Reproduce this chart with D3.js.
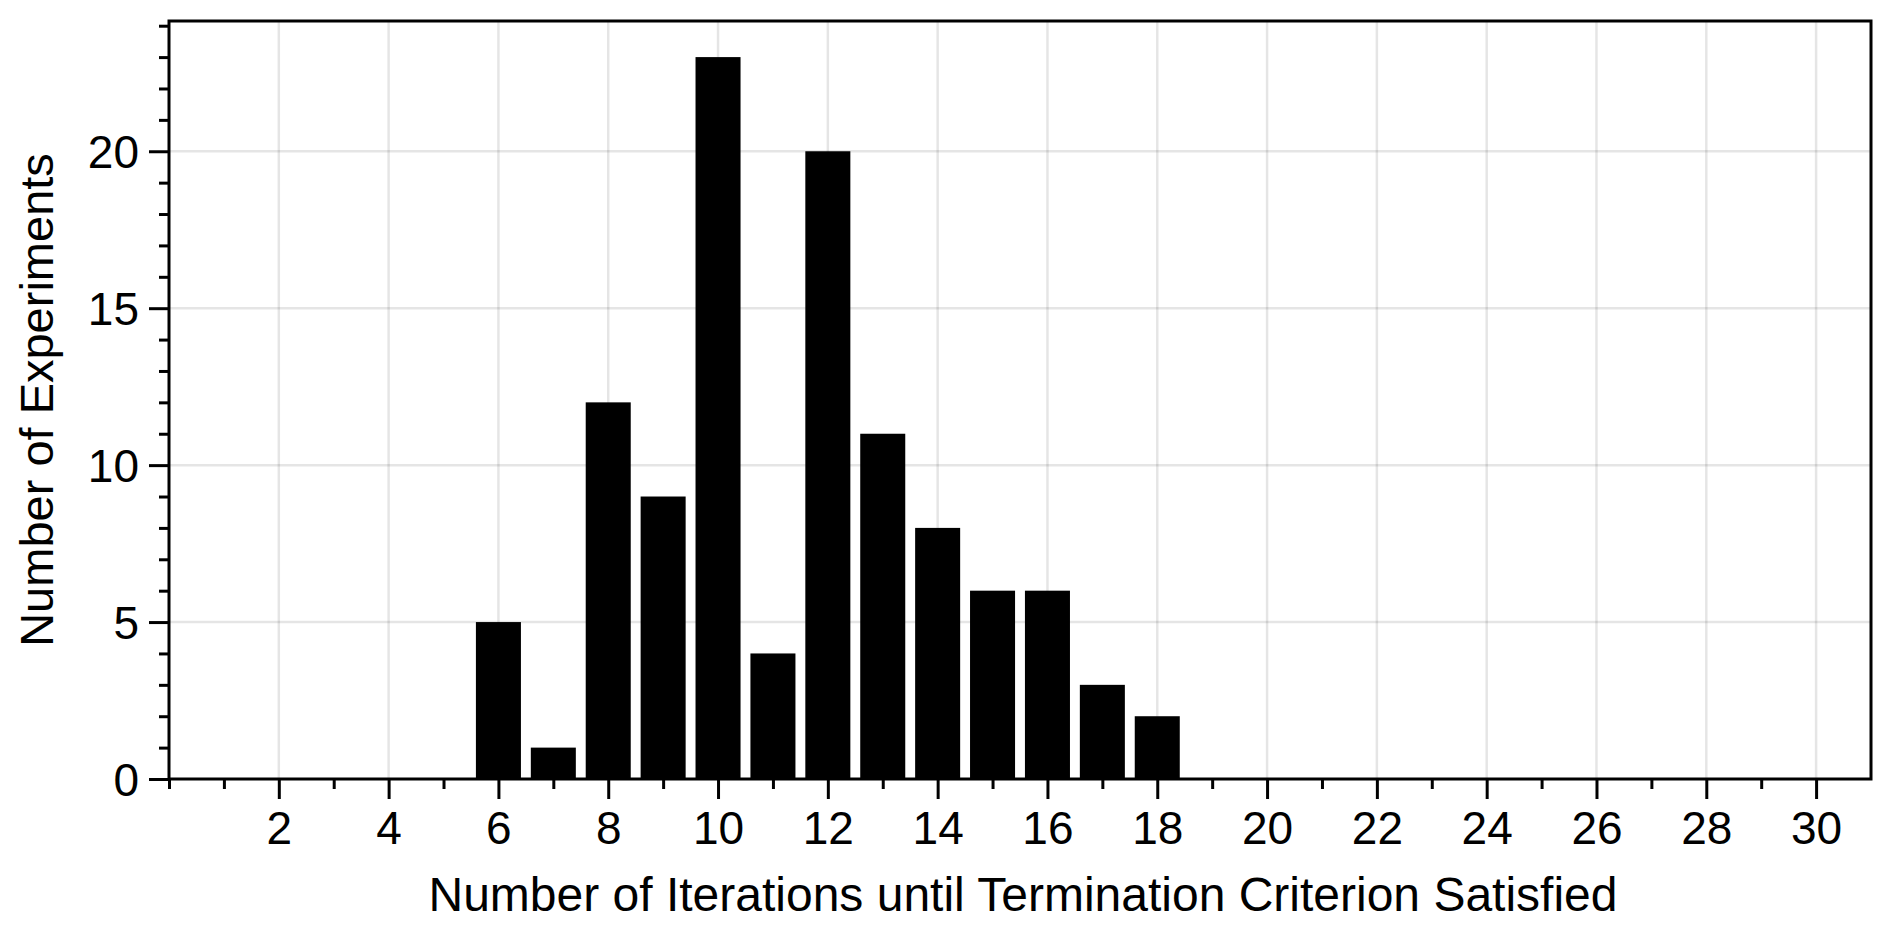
<!DOCTYPE html>
<html>
<head>
<meta charset="utf-8">
<script src="https://cdn.jsdelivr.net/npm/d3@7/dist/d3.min.js"></script>
<style>
  html, body { margin: 0; padding: 0; background: #fff; }
  svg { display: block; }
  text { font-family: "Liberation Sans", Arial, Helvetica, sans-serif; fill: #000; }
</style>
</head>
<body>
<svg id="chart" width="1892" height="932"></svg>
<script>
// ---- data ----
const iterations = [6, 7, 8, 9, 10, 11, 12, 13, 14, 15, 16, 17, 18];
const experiments = [5, 1, 12, 9, 23, 4, 20, 11, 8, 6, 6, 3, 2];
const xMajorTicks = [2, 4, 6, 8, 10, 12, 14, 16, 18, 20, 22, 24, 26, 28, 30];
const yMajorTicks = [0, 5, 10, 15, 20];
const xLabel = "Number of Iterations until Termination Criterion Satisfied";
const yLabel = "Number of Experiments";

// ---- layout ----
const W = 1892, H = 932;
const m = { left: 169, right: W - 1871, top: 21, bottom: H - 779 };
const iw = W - m.left - m.right, ih = H - m.top - m.bottom;

const svg = d3.select("#chart");
const g = svg.append("g").attr("transform", `translate(${m.left},${m.top})`);

const x = d3.scaleLinear().domain([0, 31]).range([0, iw]);
const y = d3.scaleLinear().domain([0, 24.15]).range([ih, 0]);

const xMinor = d3.range(0, 31).filter(v => !xMajorTicks.includes(v));
const yMinor = d3.range(0, 25).filter(v => !yMajorTicks.includes(v));

// grid
g.append("g").selectAll("line").data(xMajorTicks).join("line")
  .attr("x1", d => x(d)).attr("x2", d => x(d)).attr("y1", 0).attr("y2", ih)
  .attr("stroke", "#000").attr("stroke-opacity", 0.1).attr("stroke-width", 2.5);
g.append("g").selectAll("line").data(yMajorTicks.filter(d => d > 0)).join("line")
  .attr("y1", d => y(d)).attr("y2", d => y(d)).attr("x1", 0).attr("x2", iw)
  .attr("stroke", "#000").attr("stroke-opacity", 0.1).attr("stroke-width", 2.5);

// bars
const bw = 0.82;
g.append("g").selectAll("rect").data(iterations).join("rect")
  .attr("x", (d) => x(d - bw / 2))
  .attr("width", x(bw) - x(0))
  .attr("y", (d, i) => y(experiments[i]))
  .attr("height", (d, i) => y(0) - y(experiments[i]))
  .attr("fill", "#000");

// axes
const fs = 46;
function styleAxis(sel) {
  sel.select(".domain").remove();
  sel.selectAll(".tick line").attr("stroke", "#000").attr("stroke-width", 3);
  sel.selectAll(".tick text").attr("font-size", fs).attr("fill", "#000")
     .style("font-family", '"Liberation Sans", Arial, Helvetica, sans-serif');
}
// x major
g.append("g").attr("transform", `translate(0,${ih})`)
  .call(d3.axisBottom(x).tickValues(xMajorTicks).tickFormat(d3.format("d")).tickSize(20).tickPadding(12))
  .call(styleAxis);
// x minor
g.append("g").attr("transform", `translate(0,${ih})`)
  .call(d3.axisBottom(x).tickValues(xMinor).tickFormat("").tickSize(10))
  .call(styleAxis);
// y major
g.append("g")
  .call(d3.axisLeft(y).tickValues(yMajorTicks).tickFormat(d3.format("d")).tickSize(20).tickPadding(10))
  .call(styleAxis)
  .selectAll(".tick text").attr("dy", "0.36em");
// y minor
g.append("g")
  .call(d3.axisLeft(y).tickValues(yMinor).tickFormat("").tickSize(10))
  .call(styleAxis);

// frame
g.append("rect").attr("x", 0).attr("y", 0).attr("width", iw).attr("height", ih)
  .attr("fill", "none").attr("stroke", "#000").attr("stroke-width", 3);

// labels
svg.append("text").attr("x", m.left + iw / 2 + 3).attr("y", 911)
  .attr("text-anchor", "middle").attr("font-size", 48).text(xLabel);
svg.append("text").attr("transform", `translate(53,${m.top + ih / 2}) rotate(-90)`)
  .attr("text-anchor", "middle").attr("font-size", 47).text(yLabel);
</script>
</body>
</html>
